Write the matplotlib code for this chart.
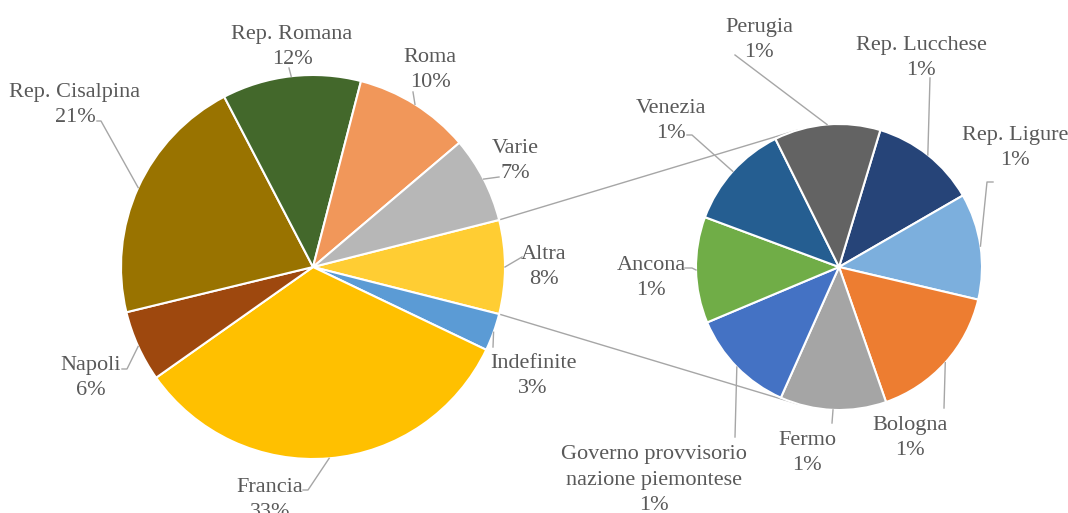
import matplotlib
matplotlib.use('Agg')
import matplotlib.pyplot as plt
import numpy as np

# ---- data ----
left_labels = ['Altra', 'Indefinite', 'Francia', 'Napoli', 'Rep. Cisalpina',
               'Rep. Romana', 'Roma', 'Varie']
left_values = [25, 10, 105, 19, 67, 37, 31, 23]
left_colors = ['#FFCD33', '#5B9BD5', '#FFC000', '#9E480E', '#997300',
               '#43682B', '#F1975A', '#B7B7B7']

right_labels = ['Rep. Lucchese', 'Rep. Ligure', 'Bologna', 'Fermo',
                'Governo provvisorio\nnazione piemontese', 'Ancona', 'Venezia', 'Perugia']
right_values = [3, 3, 4, 3, 3, 3, 3, 3]
right_colors = ['#264478', '#7CAFDD', '#ED7D31', '#A5A5A5',
                '#4472C4', '#70AD47', '#255E91', '#636363']

# ---- layout ----
W, H = 1068, 513
TXT = '#595959'
LINE = '#A6A6A6'
FONT = 'Liberation Serif'
FS = 16
DY = 3  # text vertical nudge (pixels, downward)

fig = plt.figure(figsize=(W / 100, H / 100), dpi=100)
ax = fig.add_axes([0, 0, 1, 1])

def P(px, py):
    return (px, H - py)

total = sum(left_values)
LC = P(313, 267); LR = 192
RC = P(839, 267); RR = 143

wp = dict(edgecolor='white', linewidth=1.5)
start_left = 360 * left_values[0] / total / 2
wl, _ = ax.pie(left_values, colors=left_colors, startangle=start_left,
               counterclock=False, center=LC, radius=LR, wedgeprops=wp, frame=True)
wr, _ = ax.pie(right_values, colors=right_colors, startangle=73.2,
               counterclock=False, center=RC, radius=RR, wedgeprops=wp, frame=True)
for w in list(wl) + list(wr):
    w.set_zorder(3)

ax.set_xlim(0, W)
ax.set_ylim(0, H)
ax.set_aspect('auto')
ax.axis('off')

# connector lines (tangent from Altra wedge corners to right pie)
def tangent(pt, upper):
    cx, cy = RC
    dx, dy = pt[0] - cx, pt[1] - cy
    d = np.hypot(dx, dy)
    phi = np.arctan2(dy, dx)
    a = np.arccos(RR / d)
    ang = phi - a if upper else phi + a
    return (cx + RR * np.cos(ang), cy + RR * np.sin(ang))

altra = wl[0]
for th, upper in ((altra.theta2, True), (altra.theta1, False)):
    p = (LC[0] + LR * np.cos(np.radians(th)), LC[1] + LR * np.sin(np.radians(th)))
    t = tangent(p, upper)
    ax.plot([p[0], t[0]], [p[1], t[1]], color=LINE, lw=1.0, zorder=2)

layout_left = {
    'Altra': ((544, 264), [(522, 257)]),
    'Indefinite': ((533, 373), [(493, 347)]),
    'Francia': ((270, 497), [(308, 490), (303, 490)]),
    'Napoli': ((91, 375), [(127, 369), (122, 369)]),
    'Rep. Cisalpina': ((75, 102), [(101, 121), (97, 121)]),
    'Rep. Romana': ((292, 44), [(289, 68)]),
    'Roma': ((430, 67), [(413, 92)]),
    'Varie': ((515, 158), [(499, 177)]),
}
layout_right = {
    'Rep. Lucchese': ((921, 55), [(930, 78)]),
    'Rep. Ligure': ((1015, 145), [(987, 182), (993, 182)]),
    'Bologna': ((910, 435), [(944, 408)]),
    'Fermo': ((807, 450), [(832, 423)]),
    'Governo provvisorio\nnazione piemontese': ((654, 477), [(735, 437)]),
    'Ancona': ((651, 275), [(692, 268), (685, 268)]),
    'Venezia': ((671, 118), [(692, 135), (687, 135)]),
    'Perugia': ((759, 37), [(735, 55)]),
}

def annotate(wedges, labels, values, center, radius, layout):
    for w, name, v in zip(wedges, labels, values):
        mid = np.radians((w.theta1 + w.theta2) / 2)
        ex, ey = center[0] + radius * np.cos(mid), center[1] + radius * np.sin(mid)
        (tx, ty), pts = layout[name]
        xs = [ex] + [p[0] for p in pts]
        ys = [ey] + [H - p[1] for p in pts]
        ax.plot(xs, ys, color=LINE, lw=1.0, zorder=4)
        pct = round(100 * v / total)
        ax.text(tx, H - ty - DY, f"{name}\n{pct}%", ha='center', va='center',
                family=FONT, fontsize=FS, color=TXT, linespacing=1.45, zorder=5)

annotate(wl, left_labels, left_values, LC, LR, layout_left)
annotate(wr, right_labels, right_values, RC, RR, layout_right)

fig.savefig('out.png', dpi=100)
